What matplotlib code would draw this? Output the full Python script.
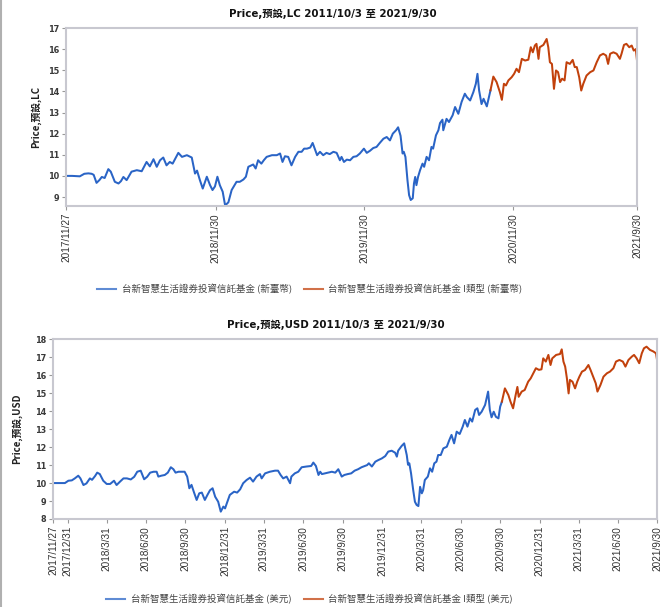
import matplotlib
matplotlib.use("Agg")
import matplotlib.pyplot as plt
import numpy as np
import pandas as pd
from matplotlib.lines import Line2D

START = pd.Timestamp("2017-11-27")
END = pd.Timestamp("2021-09-30")

# values, x = days since 2017/11/27
lc_blue_days = [0, 15, 34, 45, 55, 63, 68, 75, 82, 88, 95, 104, 110, 120, 129, 135, 141, 149, 161, 174,
                186, 198, 206, 215, 223, 231, 239, 247, 255, 262, 276, 285, 297, 309, 317, 322, 329, 336,
                346, 354, 360, 366, 372, 378, 385, 391, 399, 407, 419, 427, 436, 442, 448, 460, 466, 472,
                480, 486, 493, 506, 518, 526, 532, 538, 546, 554, 563, 571, 579, 585, 592, 600, 606, 611,
                617, 624, 632, 640, 648, 657, 665, 673, 677, 683, 690, 698, 706, 714, 722, 732, 739, 747,
                755, 763, 771, 780, 788, 796, 803, 811, 816, 822, 827, 830, 834, 839, 843, 847, 852, 855,
                858, 861, 865, 870, 876, 880, 886, 892, 898, 902, 909, 915, 919, 925, 927, 935, 941, 950,
                956, 964, 972, 980, 985, 993, 1001, 1007, 1011, 1015, 1021, 1026, 1034, 1043]
lc_blue_vals = [10.0, 10.0, 9.98, 10.1, 10.12, 10.1, 10.05, 9.67, 9.8, 9.95, 9.9, 10.32, 10.2, 9.72, 9.64,
                9.75, 9.95, 9.8, 10.2, 10.27, 10.22, 10.66, 10.45, 10.79, 10.43, 10.74, 10.87, 10.5, 10.66,
                10.58, 11.09, 10.9, 10.98, 10.87, 10.11, 10.25, 9.8, 9.4, 9.96, 9.56, 9.33, 9.5, 9.96, 9.56,
                9.25, 8.6, 8.75, 9.33, 9.72, 9.72, 9.83, 9.96, 10.43, 10.54, 10.35, 10.74, 10.58, 10.74,
                10.9, 10.98, 10.98, 11.06, 10.66, 10.93, 10.9, 10.5, 10.9, 11.14, 11.14, 11.29, 11.29,
                11.34, 11.56, 11.29, 10.98, 11.14, 10.98, 11.09, 11.03, 11.14, 11.09, 10.74, 10.9, 10.66,
                10.77, 10.74, 10.9, 10.93, 11.06, 11.29, 11.09, 11.19, 11.32, 11.37, 11.56, 11.76, 11.84,
                11.68, 12.0, 12.16, 12.3, 11.9, 11.06, 11.14, 10.9, 9.8, 9.09, 8.86, 8.94, 9.64, 9.95,
                9.56, 9.95, 10.27, 10.58, 10.43, 10.9, 10.74, 11.37, 11.29, 11.92, 12.16, 12.5, 12.66,
                12.16, 12.7, 12.55, 12.87, 13.26, 12.94, 13.5, 13.89, 13.73, 13.57, 13.97, 14.36, 14.83,
                14.05, 13.4, 13.65, 13.29, 14.05]

lc_orange_days = [1043, 1050, 1058, 1066, 1071, 1076, 1081, 1087, 1095, 1101, 1107, 1113, 1120, 1128, 1136,
                  1142, 1147, 1152, 1156, 1161, 1164, 1173, 1181, 1185, 1189, 1194, 1199, 1204, 1209, 1214,
                  1219, 1225, 1230, 1238, 1245, 1250, 1255, 1261, 1266, 1271, 1279, 1288, 1296, 1304, 1312,
                  1320, 1327, 1332, 1337, 1345, 1353, 1361, 1365, 1371, 1377, 1384, 1390, 1395, 1400, 1403]
lc_orange_vals = [14.05, 14.7, 14.44, 13.97, 13.6, 14.36, 14.28, 14.52, 14.67, 14.83, 15.07, 14.91, 15.54,
                  15.46, 15.5, 16.09, 15.85, 16.17, 16.25, 15.54, 16.09, 16.2, 16.48, 16.09, 15.38, 15.3,
                  14.12, 14.99, 14.91, 14.44, 14.6, 14.52, 15.38, 15.3, 15.49, 15.15, 15.15, 14.67, 14.04,
                  14.36, 14.75, 14.91, 14.99, 15.38, 15.7, 15.78, 15.7, 15.3, 15.78, 15.85, 15.78, 15.54,
                  15.78, 16.2, 16.25, 16.09, 16.17, 15.93, 16.0, 15.46]

usd_blue_days = [0, 27, 35, 43, 50, 58, 63, 70, 77, 85, 90, 97, 102, 108, 116, 124, 132, 141, 147, 155, 163,
                 171, 180, 188, 195, 203, 211, 218, 225, 233, 240, 244, 251, 259, 266, 273, 279, 284, 291,
                 298, 305, 311, 316, 321, 327, 333, 339, 345, 352, 358, 364, 370, 376, 383, 389, 395, 399,
                 403, 410, 420, 427, 434, 441, 449, 457, 464, 472, 480, 484, 492, 503, 515, 522, 528, 534,
                 542, 550, 553, 561, 569, 577, 588, 599, 604, 610, 616, 620, 624, 631, 639, 647, 655, 662,
                 670, 676, 684, 692, 700, 708, 716, 729, 733, 740, 748, 755, 763, 771, 778, 786, 794, 798,
                 801, 809, 815, 821, 824, 827, 831, 836, 840, 844, 848, 852, 856, 859, 863, 870, 875, 880,
                 885, 890, 894, 900, 906, 914, 920, 925, 931, 937, 944, 951, 956, 962, 968, 973, 980, 985,
                 989, 995, 1003, 1010, 1014, 1018, 1023, 1028, 1034, 1038, 1042]
usd_blue_vals = [10.0, 10.0, 10.13, 10.15, 10.26, 10.41, 10.26, 9.89, 9.98, 10.26, 10.18, 10.39, 10.58, 10.5,
                 10.13, 9.95, 9.95, 10.13, 9.89, 10.08, 10.26, 10.26, 10.2, 10.35, 10.63, 10.69, 10.21,
                 10.35, 10.58, 10.63, 10.63, 10.36, 10.41, 10.45, 10.58, 10.88, 10.77, 10.58, 10.63, 10.63,
                 10.63, 10.36, 9.71, 9.9, 9.47, 9.06, 9.43, 9.47, 9.06, 9.34, 9.6, 9.71, 9.24, 8.96, 8.41,
                 8.69, 8.59, 8.87, 9.34, 9.52, 9.47, 9.65, 9.99, 10.17, 10.3, 10.08, 10.36, 10.5, 10.26,
                 10.54, 10.63, 10.69, 10.69, 10.45, 10.26, 10.36, 9.99, 10.36, 10.54, 10.63, 10.88, 10.92,
                 10.95, 11.14, 10.95, 10.45, 10.63, 10.5, 10.54, 10.58, 10.63, 10.58, 10.77, 10.36, 10.45,
                 10.5, 10.54, 10.69, 10.77, 10.88, 11.0, 11.1, 10.92, 11.19, 11.28, 11.37, 11.5, 11.75,
                 11.8, 11.69, 11.47, 11.8, 12.06, 12.21, 11.56, 11.02, 11.1, 10.54, 9.61, 8.96, 8.78, 8.72,
                 9.79, 9.43, 9.6, 10.17, 10.36, 10.82, 10.63, 11.1, 11.19, 11.56, 11.56, 11.93, 12.02,
                 12.4, 12.68, 12.21, 12.86, 12.73, 13.14, 13.51, 13.14, 13.6, 13.42, 14.07, 14.16, 13.79,
                 13.97, 14.35, 15.09, 14.07, 13.66, 13.97, 13.69, 13.6, 14.25, 14.53]

usd_orange_days = [1042, 1049, 1057, 1062, 1068, 1074, 1078, 1081, 1088, 1095, 1103, 1109, 1115, 1121, 1128,
                   1134, 1138, 1144, 1150, 1155, 1159, 1168, 1177, 1181, 1185, 1189, 1193, 1197, 1200, 1206,
                   1212, 1217, 1222, 1228, 1235, 1243, 1248, 1254, 1260, 1264, 1271, 1278, 1286, 1293, 1301,
                   1307, 1315, 1323, 1329, 1336, 1344, 1349, 1355, 1361, 1367, 1372, 1378, 1386, 1394, 1400,
                   1403]
usd_orange_vals = [14.53, 15.27, 14.9, 14.53, 14.16, 14.9, 15.35, 14.8, 15.09, 15.18, 15.64, 15.83, 16.11,
                   16.39, 16.3, 16.33, 16.94, 16.76, 17.13, 16.57, 16.94, 17.13, 17.18, 17.44, 16.76, 16.48,
                   15.83, 14.99, 15.74, 15.64, 15.27, 15.64, 15.92, 16.2, 16.29, 16.57, 16.29, 15.92, 15.55,
                   15.09, 15.46, 15.92, 16.11, 16.2, 16.39, 16.76, 16.85, 16.76, 16.48, 16.85, 17.04, 17.13,
                   16.94, 16.67, 17.22, 17.5, 17.59, 17.41, 17.32, 17.22, 16.76]

top_ticks = ["2017-11-27", "2018-11-30", "2019-11-30", "2020-11-30", "2021-09-30"]
bottom_ticks = ["2017-11-27", "2017-12-31", "2018-03-31", "2018-06-30", "2018-09-30", "2018-12-31",
                "2019-03-31", "2019-06-30", "2019-09-30", "2019-12-31", "2020-03-31", "2020-06-30",
                "2020-09-30", "2020-12-31", "2021-03-31", "2021-06-30", "2021-09-30"]

fund = "台新智慧生活證券投資信託基金"
top_title = "Price,預設,LC 2011/10/3 至 2021/9/30"
bottom_title = "Price,預設,USD 2011/10/3 至 2021/9/30"
top_names = [fund + " (新臺幣)", fund + " I類型 (新臺幣)"]
bottom_names = [fund + " (美元)", fund + " I類型 (美元)"]

BLUE = "#2a64c6"
ORANGE = "#c2410c"
GRID = "#c8c8d0"
LAT = ["DejaVu Sans", "Noto Sans CJK TC"]
CJK = ["Noto Sans CJK TC", "DejaVu Sans"]


def to_dates(days):
    return START + pd.to_timedelta(np.array(days), unit="D")


def label(d):
    d = pd.Timestamp(d)
    return f"{d.year}/{d.month}/{d.day}"


def draw(ax, series, ylim, yticks, xticks, ylabel):
    for days, vals, col in series:
        ax.plot(to_dates(days), vals, color=col, lw=1.45, solid_joinstyle="round")
    ax.set_xlim(START, END)
    ax.set_ylim(*ylim)
    ax.set_yticks(yticks)
    ax.set_yticklabels([str(t) for t in yticks], fontsize=5.9, fontweight="bold",
                       color="#3a3a3a", family=LAT)
    tk = pd.to_datetime(xticks)
    ax.set_xticks(tk)
    ax.set_xticklabels([label(t) for t in tk], rotation=90, fontsize=7.2,
                       family=["Liberation Sans"], color="#333333")
    for s in ax.spines.values():
        s.set_color(GRID)
        s.set_linewidth(1.5)
    ax.tick_params(axis="both", color="#999999", length=3, width=0.8, pad=2)
    ax.set_ylabel(ylabel, fontsize=7, family=CJK, fontweight="bold", color="#222222")


fig = plt.figure(figsize=(6.72, 6.07), dpi=100)

ax1 = fig.add_axes([66 / 672, 1 - 206 / 607, 571 / 672, 178 / 607])
draw(ax1, [(lc_blue_days, lc_blue_vals, BLUE), (lc_orange_days, lc_orange_vals, ORANGE)],
     (8.575, 17), list(range(9, 18)), top_ticks, "Price,預設,LC")
ax1.yaxis.set_label_coords(-0.044, 0.5)

ax2 = fig.add_axes([53.3 / 672, 1 - 519 / 607, 604 / 672, 179.7 / 607])
draw(ax2, [(usd_blue_days, usd_blue_vals, BLUE), (usd_orange_days, usd_orange_vals, ORANGE)],
     (8, 18), list(range(8, 19)), bottom_ticks, "Price,預設,USD")
ax2.yaxis.set_label_coords(-0.051, 0.5)

fig.text(0.495, 1 - 14 / 607, top_title, ha="center", va="center", fontsize=7.4,
         fontweight="bold", family=LAT, color="#111111")
fig.text(0.5, 1 - 325 / 607, bottom_title, ha="center", va="center", fontsize=7.4,
         fontweight="bold", family=LAT, color="#111111")

for names, y in [(top_names, 1 - 289 / 607), (bottom_names, 1 - 599 / 607)]:
    handles = [Line2D([], [], color=BLUE, lw=1.5, alpha=0.75),
               Line2D([], [], color=ORANGE, lw=1.5, alpha=0.75)]
    fig.legend(handles, names, loc="center", bbox_to_anchor=(0.461, y), ncol=2, frameon=False,
               prop={"family": CJK, "size": 6.8}, labelcolor="#444444", handlelength=2.0,
               handletextpad=0.6, columnspacing=1.3)

fig.add_artist(Line2D([0.002, 0.002], [0, 1], color="#b0b0b0", lw=1.5, transform=fig.transFigure))

fig.savefig("out.png", dpi=100)
